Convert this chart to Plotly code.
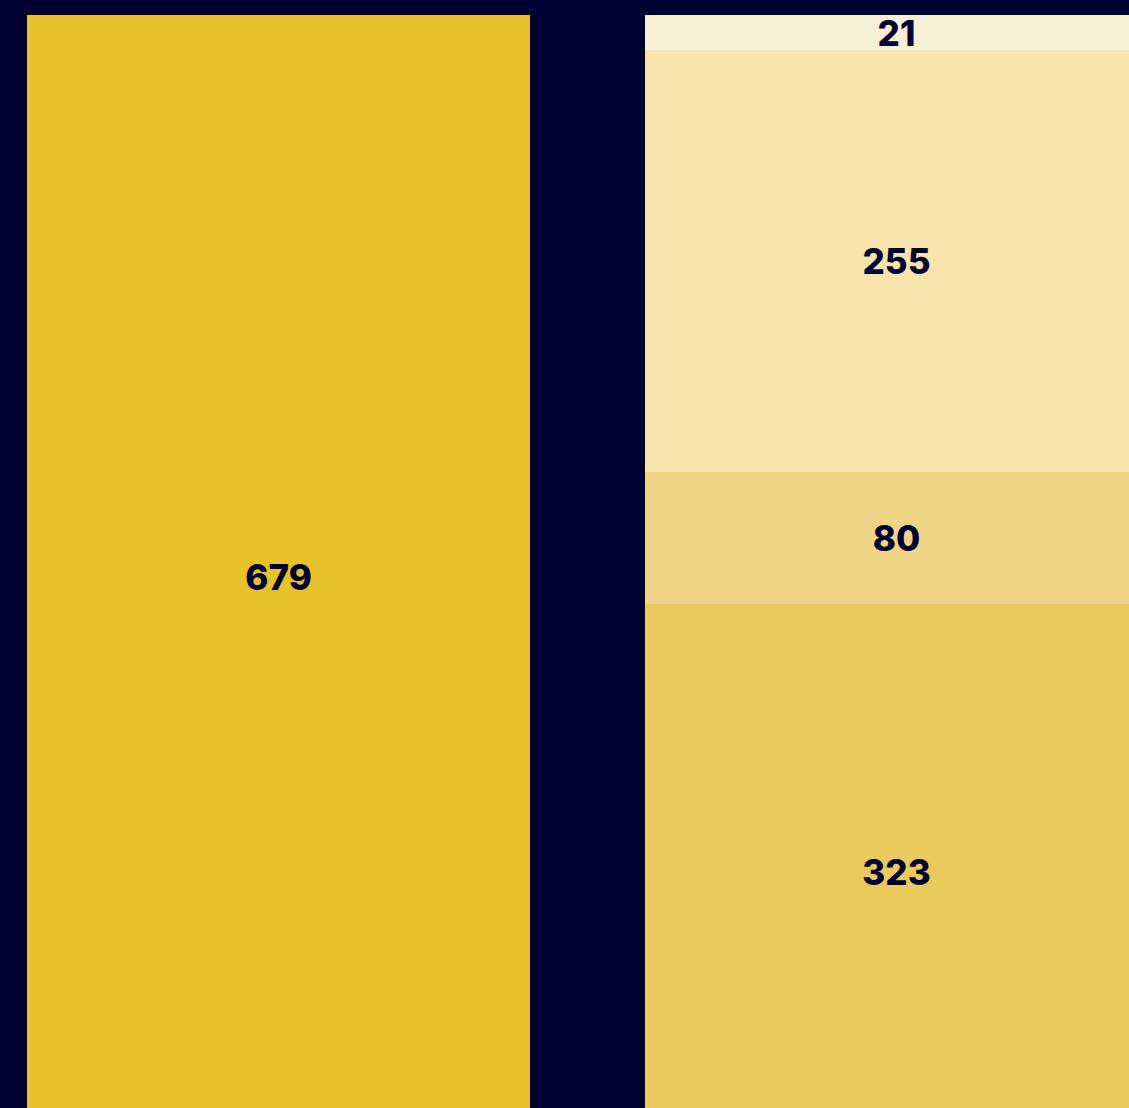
import plotly.graph_objects as go

# Data
total_category = ["Total"]
total_values = [679]
breakdown_category = ["Breakdown"]
segment_values = [323, 80, 255, 21]  # bottom to top
segment_colors = ["#EACA5C", "#F0D587", "#F6E4AC", "#F8F0D6"]

BG = "#000030"
TEXT = "#000030"
BAR_W = 0.814
FONT = dict(family="Inter", size=35, color=TEXT, weight=800, style="normal")

fig = go.Figure()
fig.add_trace(go.Bar(
    x=total_category, y=total_values,
    marker=dict(color="#E8C22A", line=dict(width=0)),
    width=BAR_W,
    text=[str(v) for v in total_values],
    textposition="inside", insidetextanchor="middle",
    textangle=0, constraintext="none",
    textfont=FONT,
    hoverinfo="skip", showlegend=False,
))
for v, c in zip(segment_values, segment_colors):
    fig.add_trace(go.Bar(
        x=breakdown_category, y=[v],
        marker=dict(color=c, line=dict(width=0)),
        width=BAR_W,
        text=[str(v)],
        textposition="inside", insidetextanchor="middle",
        textangle=0, constraintext="none",
        textfont=FONT,
        hoverinfo="skip", showlegend=False,
    ))

fig.update_layout(
    barmode="stack",
    width=1129, height=1108,
    margin=dict(l=0, r=0, t=0, b=0, pad=0),
    paper_bgcolor=BG, plot_bgcolor=BG,
    uniformtext=dict(mode=False),
    xaxis=dict(type="category", categoryorder="array",
               categoryarray=total_category + breakdown_category,
               range=[-0.4507, 1.3762], visible=False, fixedrange=True),
    yaxis=dict(range=[18.7, 688.2], visible=False, fixedrange=True,
               showgrid=False, zeroline=False),
)

fig.write_html(
    "out.html",
    config={"displayModeBar": False, "staticPlot": True},
    post_script="document.body.style.margin='0';document.body.style.background='#000030';document.body.style.overflow='hidden';",
)
